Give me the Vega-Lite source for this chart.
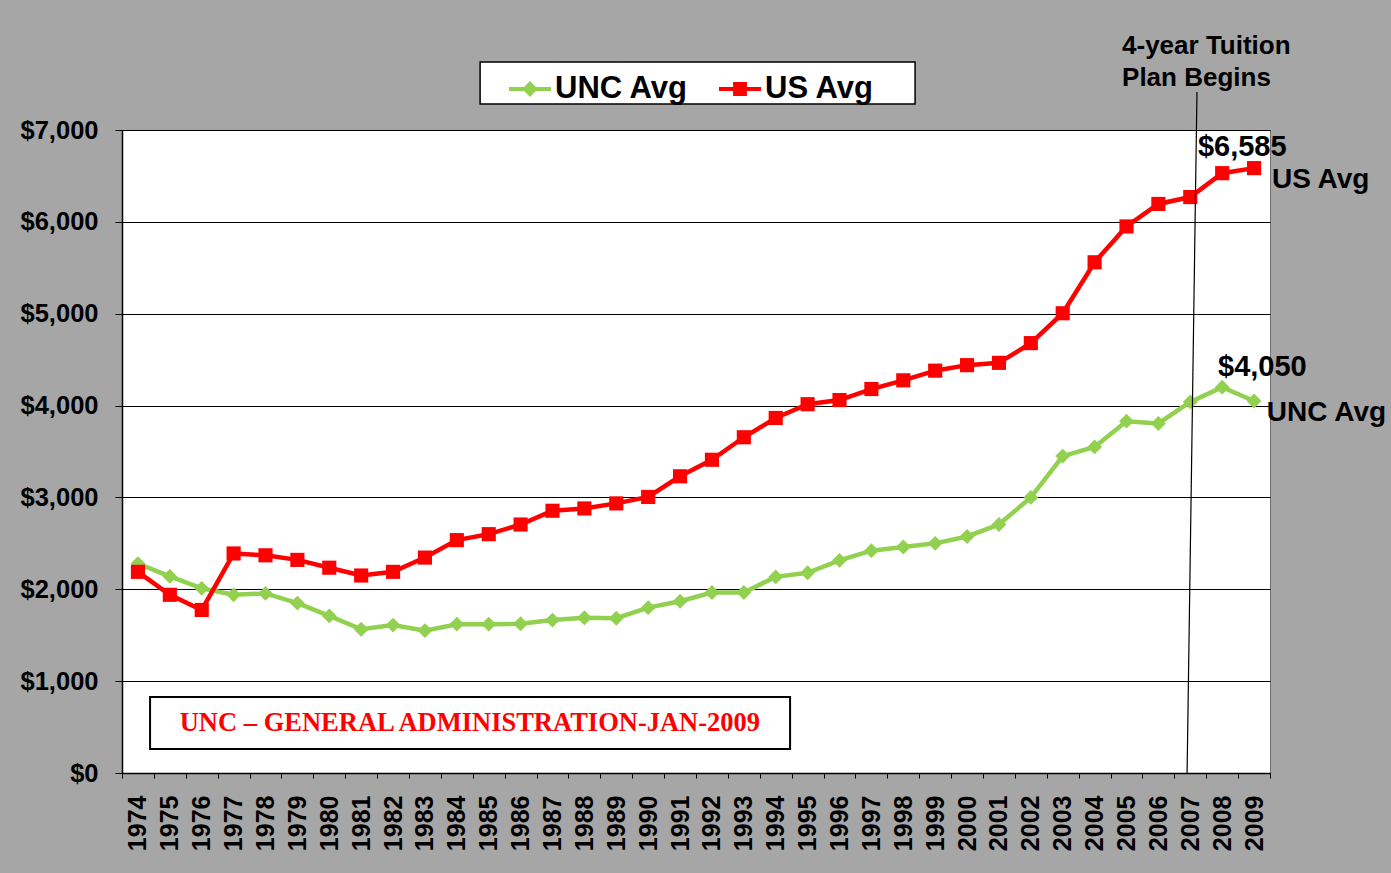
{
  "$schema": "https://vega.github.io/schema/vega-lite/v6.json",
  "width": 1148,
  "height": 643,
  "autosize": {"type": "none"},
  "padding": {"left": 122, "top": 130, "right": 121, "bottom": 100},
  "background": "#a6a6a6",
  "config": {
    "font": "Liberation Sans",
    "view": {"fill": "white", "stroke": "#6f6f6f", "strokeWidth": 1}
  },
  "resolve": {"scale": {"x": "independent", "y": "independent"}, "axis": {"x": "independent", "y": "independent"}},
  "layer": [
    {
      "data": {
        "values": [
          {"year": "1974", "series": "UNC Avg", "value": 2280}, {"year": "1975", "series": "UNC Avg", "value": 2140},
          {"year": "1976", "series": "UNC Avg", "value": 2010}, {"year": "1977", "series": "UNC Avg", "value": 1940},
          {"year": "1978", "series": "UNC Avg", "value": 1955}, {"year": "1979", "series": "UNC Avg", "value": 1850},
          {"year": "1980", "series": "UNC Avg", "value": 1710}, {"year": "1981", "series": "UNC Avg", "value": 1565},
          {"year": "1982", "series": "UNC Avg", "value": 1610}, {"year": "1983", "series": "UNC Avg", "value": 1550},
          {"year": "1984", "series": "UNC Avg", "value": 1620}, {"year": "1985", "series": "UNC Avg", "value": 1620},
          {"year": "1986", "series": "UNC Avg", "value": 1625}, {"year": "1987", "series": "UNC Avg", "value": 1665},
          {"year": "1988", "series": "UNC Avg", "value": 1690}, {"year": "1989", "series": "UNC Avg", "value": 1685},
          {"year": "1990", "series": "UNC Avg", "value": 1800}, {"year": "1991", "series": "UNC Avg", "value": 1870},
          {"year": "1992", "series": "UNC Avg", "value": 1965}, {"year": "1993", "series": "UNC Avg", "value": 1965},
          {"year": "1994", "series": "UNC Avg", "value": 2135}, {"year": "1995", "series": "UNC Avg", "value": 2180},
          {"year": "1996", "series": "UNC Avg", "value": 2315}, {"year": "1997", "series": "UNC Avg", "value": 2420},
          {"year": "1998", "series": "UNC Avg", "value": 2460}, {"year": "1999", "series": "UNC Avg", "value": 2500},
          {"year": "2000", "series": "UNC Avg", "value": 2575}, {"year": "2001", "series": "UNC Avg", "value": 2705},
          {"year": "2002", "series": "UNC Avg", "value": 3000}, {"year": "2003", "series": "UNC Avg", "value": 3450},
          {"year": "2004", "series": "UNC Avg", "value": 3550}, {"year": "2005", "series": "UNC Avg", "value": 3830},
          {"year": "2006", "series": "UNC Avg", "value": 3805}, {"year": "2007", "series": "UNC Avg", "value": 4040},
          {"year": "2008", "series": "UNC Avg", "value": 4200}, {"year": "2009", "series": "UNC Avg", "value": 4050},
          {"year": "1974", "series": "US Avg", "value": 2190}, {"year": "1975", "series": "US Avg", "value": 1940},
          {"year": "1976", "series": "US Avg", "value": 1775}, {"year": "1977", "series": "US Avg", "value": 2390},
          {"year": "1978", "series": "US Avg", "value": 2370}, {"year": "1979", "series": "US Avg", "value": 2320},
          {"year": "1980", "series": "US Avg", "value": 2235}, {"year": "1981", "series": "US Avg", "value": 2150},
          {"year": "1982", "series": "US Avg", "value": 2190}, {"year": "1983", "series": "US Avg", "value": 2345},
          {"year": "1984", "series": "US Avg", "value": 2535}, {"year": "1985", "series": "US Avg", "value": 2600},
          {"year": "1986", "series": "US Avg", "value": 2705}, {"year": "1987", "series": "US Avg", "value": 2855},
          {"year": "1988", "series": "US Avg", "value": 2880}, {"year": "1989", "series": "US Avg", "value": 2935},
          {"year": "1990", "series": "US Avg", "value": 3005}, {"year": "1991", "series": "US Avg", "value": 3230},
          {"year": "1992", "series": "US Avg", "value": 3410}, {"year": "1993", "series": "US Avg", "value": 3655},
          {"year": "1994", "series": "US Avg", "value": 3865}, {"year": "1995", "series": "US Avg", "value": 4015},
          {"year": "1996", "series": "US Avg", "value": 4060}, {"year": "1997", "series": "US Avg", "value": 4180},
          {"year": "1998", "series": "US Avg", "value": 4275}, {"year": "1999", "series": "US Avg", "value": 4380},
          {"year": "2000", "series": "US Avg", "value": 4440}, {"year": "2001", "series": "US Avg", "value": 4465},
          {"year": "2002", "series": "US Avg", "value": 4680}, {"year": "2003", "series": "US Avg", "value": 5005},
          {"year": "2004", "series": "US Avg", "value": 5560}, {"year": "2005", "series": "US Avg", "value": 5950},
          {"year": "2006", "series": "US Avg", "value": 6195}, {"year": "2007", "series": "US Avg", "value": 6270},
          {"year": "2008", "series": "US Avg", "value": 6530}, {"year": "2009", "series": "US Avg", "value": 6585}
        ]
      },
      "encoding": {
        "x": {
          "field": "year", "type": "ordinal", "bandPosition": 0.5,
          "scale": {"type": "band", "paddingInner": 0, "paddingOuter": 0},
          "axis": {
            "title": null, "labelAngle": 270, "labelAlign": "right", "labelBaseline": "middle",
            "labelFontSize": 25, "labelFontWeight": "bold", "labelColor": "black",
            "tickBand": "extent", "tickColor": "black", "tickSize": 5, "domainColor": "black",
            "domainWidth": 1.5, "labelPadding": 17, "grid": false
          }
        },
        "y": {
          "field": "value", "type": "quantitative",
          "scale": {"domain": [0, 7000], "nice": false},
          "axis": {
            "title": null, "values": [0, 1000, 2000, 3000, 4000, 5000, 6000, 7000], "format": "$,.0f",
            "labelFontSize": 25.5, "labelFontWeight": "bold", "labelColor": "black", "labelPadding": 17,
            "tickSize": 7, "tickColor": "black", "domainColor": "black", "domainWidth": 1.5,
            "grid": true, "gridColor": "black", "gridWidth": 1.2, "gridOpacity": 1
          }
        },
        "color": {
          "field": "series", "type": "nominal",
          "scale": {"domain": ["UNC Avg", "US Avg"], "range": ["#92d050", "#ff0000"]},
          "legend": {
            "orient": "none", "legendX": 387, "legendY": -62, "direction": "horizontal",
            "title": null, "labelFontSize": 31, "labelFontWeight": "bold", "labelColor": "black",
            "symbolSize": 1764, "symbolStrokeWidth": 0, "labelOffset": 4, "columnPadding": 30,
            "padding": 0
          }
        }
      },
      "layer": [
        {"mark": {"type": "line", "strokeWidth": 4.5}},
        {
          "mark": {"type": "point", "filled": true, "opacity": 1, "size": 0},
          "encoding": {
            "shape": {
              "field": "series", "type": "nominal",
              "scale": {
                "domain": ["UNC Avg", "US Avg"],
                "range": [
                  "M-1,-0.1H-0.28L0,-0.38L0.28,-0.1H1V0.1H0.28L0,0.38L-0.28,0.1H-1Z",
                  "M-1,-0.1H-0.33V-0.33H0.33V-0.1H1V0.1H0.33V0.33H-0.33V0.1H-1Z"
                ]
              },
              "legend": null
            }
          }
        },
        {
          "transform": [{"filter": "datum.series === 'UNC Avg'"}],
          "mark": {"type": "point", "shape": "diamond", "filled": true, "opacity": 1, "size": 220}
        },
        {
          "transform": [{"filter": "datum.series === 'US Avg'"}],
          "mark": {"type": "point", "shape": "square", "filled": true, "opacity": 1, "size": 200}
        }
      ]
    },
    {
      "data": {"values": [{"x1": 1984.73, "x2": 1998.37, "y1": 7283, "y2": 7740}]},
      "mark": {"type": "rect", "fill": "white", "stroke": "black", "strokeWidth": 1.5},
      "encoding": {
        "x": {"field": "x1", "type": "quantitative", "scale": {"domain": [1973.5, 2009.5], "nice": false, "zero": false}, "axis": null},
        "x2": {"field": "x2"},
        "y": {"field": "y1", "type": "quantitative", "scale": {"domain": [0, 7000], "nice": false}, "axis": null},
        "y2": {"field": "y2"}
      }
    },
    {
      "data": {"values": [{"x1": 1974.38, "x2": 1994.45, "y1": 261, "y2": 827, "cx": 1984.41, "cy": 544, "label": "UNC – GENERAL ADMINISTRATION-JAN-2009"}]},
      "layer": [
        {
          "mark": {"type": "rect", "fill": "white", "stroke": "black", "strokeWidth": 2},
          "encoding": {
            "x": {"field": "x1", "type": "quantitative", "scale": {"domain": [1973.5, 2009.5], "nice": false, "zero": false}, "axis": null},
            "x2": {"field": "x2"},
            "y": {"field": "y1", "type": "quantitative", "scale": {"domain": [0, 7000], "nice": false}, "axis": null},
            "y2": {"field": "y2"}
          }
        },
        {
          "mark": {"type": "text", "font": "Liberation Serif", "fontWeight": "bold", "fontSize": 26.5, "color": "#ff0000", "align": "center", "baseline": "middle"},
          "encoding": {
            "x": {"field": "cx", "type": "quantitative", "axis": null},
            "y": {"field": "cy", "type": "quantitative", "axis": null},
            "text": {"field": "label"}
          }
        }
      ]
    },
    {
      "data": {"values": [{"x1": 2007.21, "y1": 7413, "x2": 2006.9, "y2": 0}]},
      "mark": {"type": "rule", "color": "black", "strokeWidth": 1.2},
      "encoding": {
        "x": {"field": "x1", "type": "quantitative", "scale": {"domain": [1973.5, 2009.5], "nice": false, "zero": false}, "axis": null},
        "y": {"field": "y1", "type": "quantitative", "scale": {"domain": [0, 7000], "nice": false}, "axis": null},
        "x2": {"field": "x2"},
        "y2": {"field": "y2"}
      }
    },
    {
      "data": {
        "values": [
          {"x": 2007.24, "y": 6815, "label": "$6,585", "size": 29},
          {"x": 2009.56, "y": 6456, "label": "US Avg", "size": 28},
          {"x": 2007.87, "y": 4420, "label": "$4,050", "size": 29},
          {"x": 2009.4, "y": 3919, "label": "UNC Avg", "size": 28},
          {"x": 2004.86, "y": 7914, "label": "4-year  Tuition", "size": 26},
          {"x": 2004.86, "y": 7566, "label": "Plan Begins", "size": 26}
        ]
      },
      "mark": {"type": "text", "fontWeight": "bold", "color": "black", "align": "left", "baseline": "middle"},
      "encoding": {
        "x": {"field": "x", "type": "quantitative", "scale": {"domain": [1973.5, 2009.5], "nice": false, "zero": false}, "axis": null},
        "y": {"field": "y", "type": "quantitative", "scale": {"domain": [0, 7000], "nice": false}, "axis": null},
        "text": {"field": "label"},
        "size": {"field": "size", "type": "quantitative", "scale": null, "legend": null}
      }
    }
  ]
}
